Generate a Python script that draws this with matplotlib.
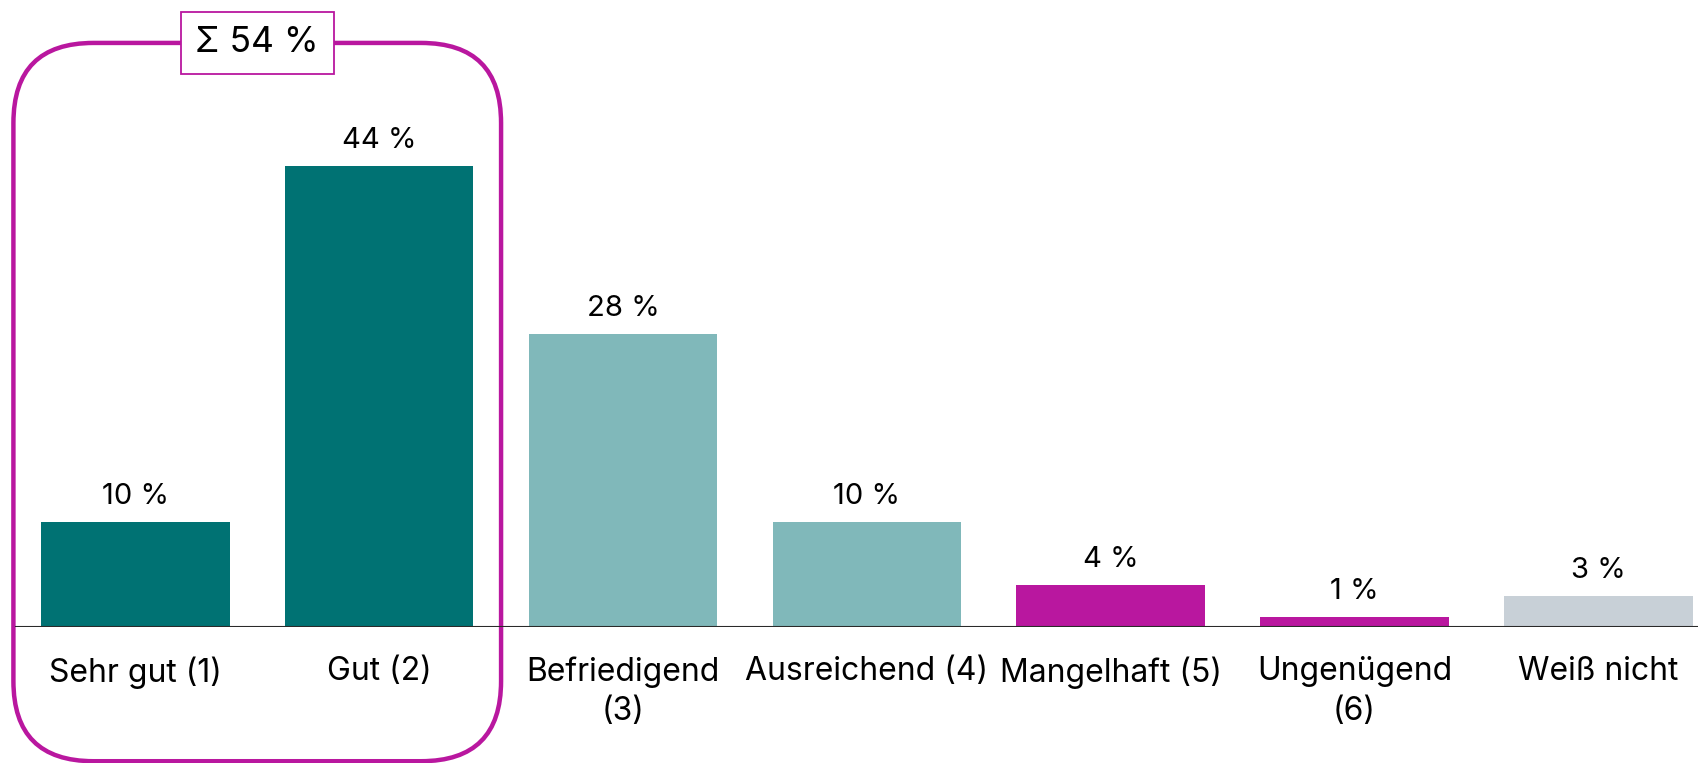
import matplotlib
matplotlib.use('Agg')
import matplotlib.pyplot as plt
from matplotlib.patches import FancyBboxPatch
from matplotlib.transforms import IdentityTransform

plt.rcParams['font.family'] = ['Inter', 'DejaVu Sans']

# data
categories = ['Sehr gut (1)', 'Gut (2)', 'Befriedigend\n(3)', 'Ausreichend (4)',
              'Mangelhaft (5)', 'Ungenügend\n(6)', 'Weiß nicht']
values = [10, 44, 28, 10, 4, 1, 3]
value_labels = ['10 %', '44 %', '28 %', '10 %', '4 %', '1 %', '3 %']
colors = ['#007273', '#007273', '#80b8ba', '#80b8ba', '#b9179f', '#b9179f', '#c8d0d7']
group = [0, 1]          # bars inside the bracket
group_label = 'Σ 54 %'
magenta = '#b9179f'

fig = plt.figure(figsize=(16.99, 7.63), dpi=100)
ax = fig.add_axes([0, 0.178, 1, 0.822])

x = list(range(len(categories)))
ax.bar(x, values, width=0.773, color=colors, zorder=2)
ax.set_xlim(-0.555, 6.413)
ax.set_ylim(0, 59.9)

for s in ax.spines.values():
    s.set_visible(False)
ax.set_yticks([])
ax.axhline(0, xmin=0.0095, color='#2a2a2a', lw=1.5, zorder=3)

ax.set_xticks(x, categories)
ax.tick_params(axis='x', length=0, pad=21, labelsize=23, labelcolor='black')
for t in ax.get_xticklabels():
    t.set_linespacing(1.35)

# value labels
for xi, v, lab in zip(x, values, value_labels):
    ax.annotate(lab, (xi, v), xytext=(0, 13), textcoords='offset points',
                ha='center', va='baseline', fontsize=21)

# bracket around the first group (drawn in pixels so corners stay round)
top = 55.8
bottom = -12.8
(px0, py0), (px1, py1) = ax.transData.transform([(group[0] - 0.5, bottom),
                                                  (group[-1] + 0.5, top)])
bracket = FancyBboxPatch((px0, py0), px1 - px0, py1 - py0,
                         boxstyle='round,pad=0,rounding_size=80',
                         transform=IdentityTransform(), fill=False,
                         edgecolor=magenta, lw=3.2, clip_on=False, zorder=1)
ax.add_artist(bracket)

ax.text(sum(group) / len(group), top, group_label, ha='center', va='center',
        fontsize=25.5, zorder=5,
        bbox=dict(boxstyle='square,pad=0.42', fc='white', ec=magenta, lw=1.3))

fig.savefig('out.png', dpi=100)
